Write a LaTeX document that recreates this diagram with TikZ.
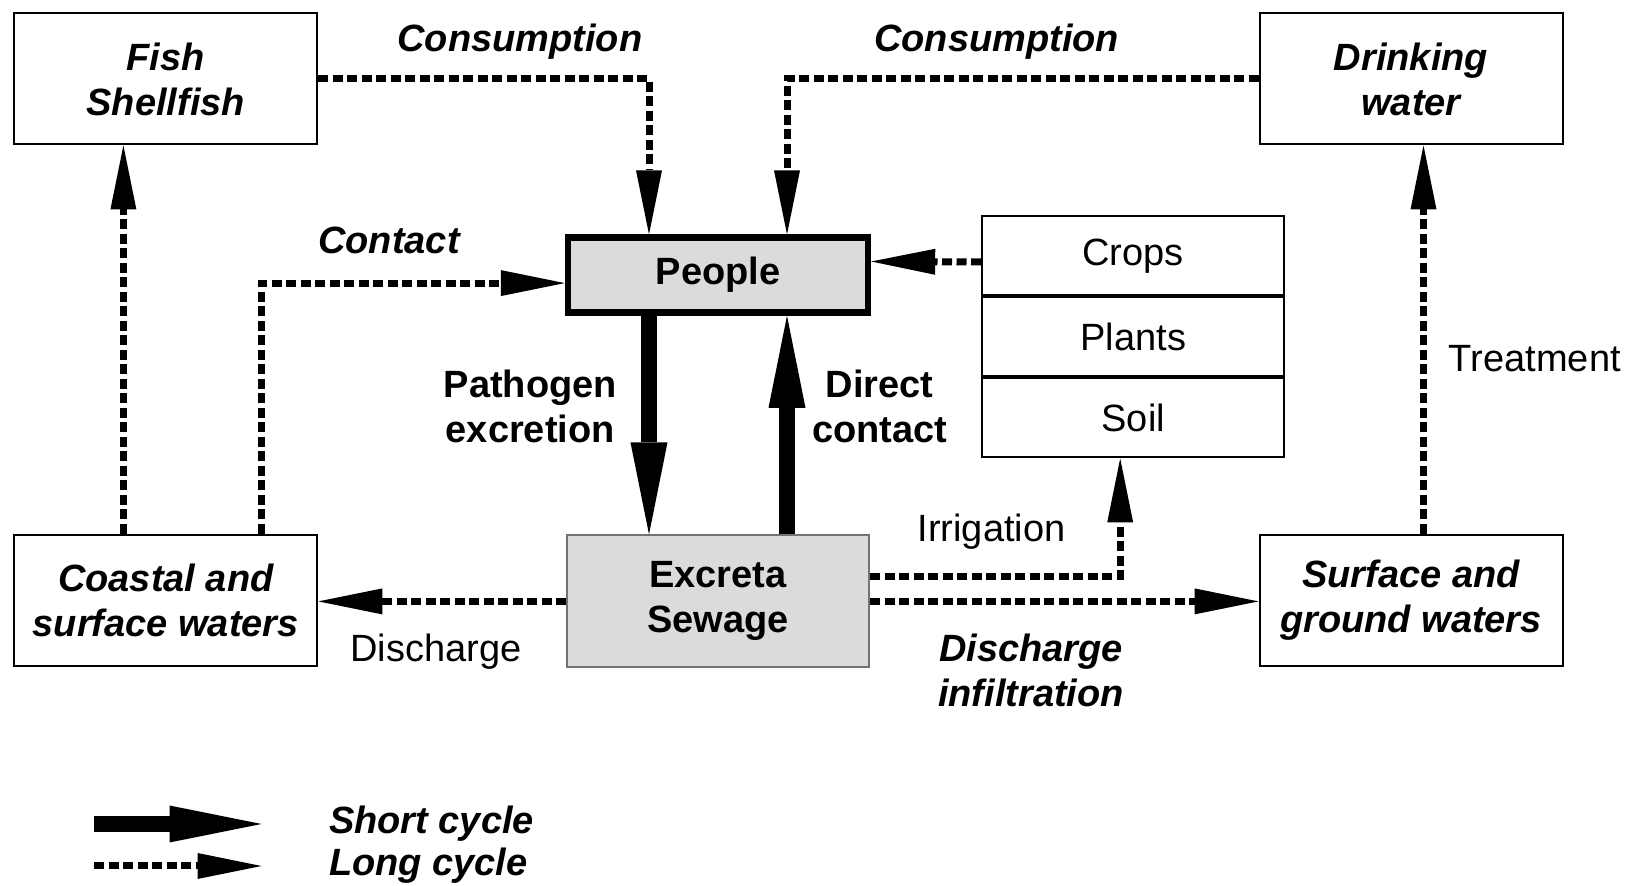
\documentclass[tikz,border=0pt]{standalone}
\usepackage{fontspec}
\setmainfont{Liberation Sans}
\usetikzlibrary{arrows.meta}
\definecolor{boxgray}{gray}{0.86}
\definecolor{edgegray}{gray}{0.45}
\tikzset{
  rm/.style={font=\fontsize{19}{22.5}\selectfont},
  bf/.style={font=\fontsize{19}{22.5}\selectfont\bfseries},
  bi/.style={font=\fontsize{19}{22.5}\selectfont\bfseries\itshape},
  box/.style={draw, line width=1pt, inner sep=0pt, align=center, minimum width=303*\pix, minimum height=131*\pix},
  longcyc/.style={line width=3.5pt, dash pattern=on 5pt off 2.25pt, -{Triangle[length=32pt,width=13pt,line width=0pt]}},
  shortcyc/.style={line width=8pt, -{Triangle[length=46pt,width=18.5pt,line width=0pt]}}
}
\begin{document}
\begin{tikzpicture}[x=0.5pt, y=-0.5pt]
\pgfmathsetlengthmacro\pix{0.5pt}
\useasboundingbox (0,0) rectangle (1640,886);
% outer boxes
\node[box, bi] (fish) at (165.8,79) {Fish\\Shellfish};
\node[box, bi] (drink) at (1411,79) {Drinking\\water};
\node[box, bi] (coastal) at (165.8,600.4) {Coastal and\\surface waters};
\node[box, bi] (surface) at (1411,600.4) {Surface and\\ground waters};
% centre boxes
\node[box, bf, fill=boxgray, line width=3.2pt, minimum width=300*\pix, minimum height=75*\pix] (people) at (718,275.1) {People};
\node[box, bf, fill=boxgray, draw=edgegray, minimum width=302*\pix, minimum height=132*\pix] (excreta) at (718,601.4) {Excreta\\Sewage};
% crops, plants, soil
\foreach \name/\txt [count=\i from 0] in {crops/Crops, plants/Plants, soil/Soil}
  \node[box, rm, minimum width=302.4*\pix, minimum height=79*\pix] (\name) at (1133.2,256+81*\i) {\txt};
% labels
\node[bi] (lcons1) at (519.8,41.8) {Consumption};
\node[bi] (lcons2) at (996.7,41.8) {Consumption};
\node[bi] (lcontact) at (389,240.6) {Contact};
\node[bf, align=center] (lpath) at (530.3,406.9) {Pathogen\\excretion};
\node[bf, align=center] (ldirect) at (879.6,406.9) {Direct\\contact};
\node[rm] (lirr) at (991.5,531.3) {Irrigation};
\node[rm] (ldis) at (436,651.6) {Discharge};
\node[bi, align=center] (linf) at (1031,670.4) {Discharge\\infiltration};
\node[rm] (ltreat) at (1534.8,358.7) {Treatment};
% long cycle
\draw[longcyc] (fish.east) -| ([xshift=-34.5pt]people.north);
\draw[longcyc] (drink.west) -| ([xshift=34.5pt]people.north);
\draw[longcyc] ([xshift=47.85pt]coastal.north) |- ([yshift=-4pt]people.west);
\draw[longcyc] ([xshift=-21.2pt]coastal.north) -- ([xshift=-21.2pt]fish.south);
\draw[longcyc] ([yshift=-3pt]crops.west) -- ([yshift=6.8pt]people.east);
\draw[longcyc] (excreta.west) -- (excreta.west -| coastal.east);
\draw[longcyc] ([yshift=12.5pt]excreta.east) -| ([xshift=-6.5pt]soil.south);
\draw[longcyc] (excreta.east) -- (excreta.east -| surface.west);
\draw[longcyc] ([xshift=6.25pt]surface.north) -- ([xshift=6.25pt]drink.south);
% short cycle
\draw[shortcyc] ([xshift=-34.5pt]people.south) -- ([xshift=-34.5pt]excreta.north);
\draw[shortcyc] ([xshift=34.5pt]excreta.north) -- ([xshift=34.5pt]people.south);
% legend
\coordinate (sc0) at (94,824);
\coordinate (sc1) at (261.5,824);
\coordinate (lc0) at (94,866);
\coordinate (lc1) at (261.5,866);
\draw[shortcyc] (sc0) -- (sc1);
\draw[longcyc] (lc0) -- (lc1);
\node[bi, anchor=west] (lshort) at (322,824) {Short cycle};
\node[bi, anchor=west] (llong) at (322,866) {Long cycle};
\end{tikzpicture}
\end{document}
